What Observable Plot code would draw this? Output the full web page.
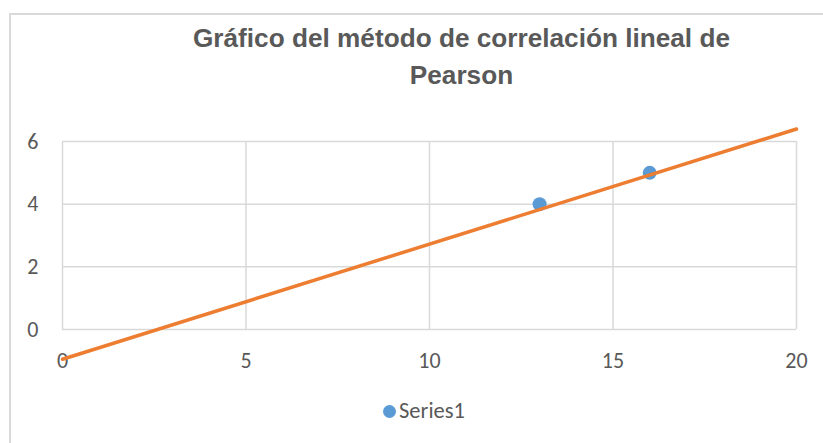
<!DOCTYPE html>
<html>
<head>
<meta charset="utf-8">
<script src="https://cdn.jsdelivr.net/npm/d3@7"></script>
<script src="https://cdn.jsdelivr.net/npm/@observablehq/plot@0.6"></script>
<style>
  html, body { margin: 0; padding: 0; background: #fff; }
  #wrap { position: relative; width: 823px; height: 443px; overflow: hidden; background: #fff; }
  #border { position: absolute; left: 9px; top: 13px; width: 900px; height: 500px; border-top: 2px solid #d9d9d9; border-left: 2px solid #d9d9d9; }
  #title { position: absolute; left: 0; width: 923px; top: 20px; text-align: center; font-family: "Liberation Sans Narrow", "Arial Narrow", "Liberation Sans", sans-serif; font-weight: bold; font-size: 26.2px; line-height: 37px; color: #595959; }
  #legend { position: absolute; left: 383px; top: 397px; font-family: Carlito, Lato, "Open Sans", sans-serif; font-size: 22.5px; line-height: 28px; color: #595959; display: flex; align-items: center; }
  #legend .sw { width: 13px; height: 13px; border-radius: 50%; background: #5B9BD5; margin-right: 3px; }
  #chart { position: absolute; left: 0; top: 0; }
</style>
</head>
<body>
<div id="wrap">
  <div id="border"></div>
  <div id="title">Gráfico del método de correlación lineal de<br>Pearson</div>
  <div id="chart"></div>
  <div id="legend"><span class="sw"></span><span>Series1</span></div>
</div>
<script>
const seriesName = "Series1";
const xValues = [13, 16];
const yValues = [4, 5];
const trendX = [0, 20];
const trendY = [-0.95, 6.4];
const xTicks = [0, 5, 10, 15, 20];
const yTicks = [0, 2, 4, 6];

const points = xValues.map((x, i) => ({x, y: yValues[i]}));
const trend = trendX.map((x, i) => ({x, y: trendY[i]}));

const chart = Plot.plot({
  width: 823,
  height: 443,
  marginLeft: 62,
  marginRight: 27,
  marginTop: 141,
  marginBottom: 114,
  style: {background: "transparent", fontFamily: "Carlito, Lato, 'Open Sans', sans-serif", fontSize: "22px", color: "#595959"},
  x: {domain: [0, 20]},
  y: {domain: [0, 6]},
  marks: [
    Plot.gridX(xTicks, {stroke: "#d9d9d9", strokeOpacity: 1, strokeWidth: 1.5}),
    Plot.gridY(yTicks, {stroke: "#d9d9d9", strokeOpacity: 1, strokeWidth: 1.5}),
    Plot.axisX(xTicks, {tickSize: 0, tickPadding: 23, fontSize: 22, fill: "#595959", label: null}),
    Plot.axisY(yTicks, {tickSize: 0, tickPadding: 24, fontSize: 22, fill: "#595959", label: null}),
    Plot.dot(points, {x: "x", y: "y", r: 7, fill: "#5B9BD5", stroke: "none"}),
    Plot.line(trend, {x: "x", y: "y", stroke: "#ED7D31", strokeWidth: 3.5})
  ]
});
document.getElementById("chart").appendChild(chart);
</script>
</body>
</html>
